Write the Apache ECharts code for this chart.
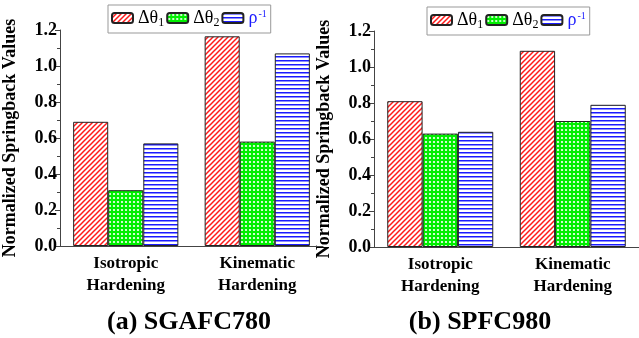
<!DOCTYPE html>
<html>
<head>
<meta charset="utf-8">
<script src="https://cdn.jsdelivr.net/npm/echarts@6/dist/echarts.min.js"></script>
<style>
html,body{margin:0;padding:0;background:#fff;}
#main{width:639px;height:338px;}
</style>
</head>
<body>
<div id="main"></div>
<script>
// data
var categories = ['Isotropic\nHardening', 'Kinematic\nHardening'];
var seriesNames = ['Δθ1', 'Δθ2', 'ρ-1'];
var sgafcTheta1 = [0.69, 1.165];
var sgafcTheta2 = [0.31, 0.58];
var sgafcRho = [0.57, 1.07];
var spfcTheta1 = [0.81, 1.09];
var spfcTheta2 = [0.63, 0.70];
var spfcRho = [0.64, 0.79];
var yTicks = [0, 0.2, 0.4, 0.6, 0.8, 1.0, 1.2];
var panelTitles = ['(a) SGAFC780', '(b) SPFC980'];

var FONT = 'Liberation Serif';

// fill patterns
function makeTile(w, h, draw) {
    var c = document.createElement('canvas');
    c.width = w; c.height = h;
    draw(c.getContext('2d'), w, h);
    return { image: c, repeat: 'repeat' };
}
var redHatch = makeTile(5, 5, function (ctx, w, h) {
    ctx.fillStyle = '#fff'; ctx.fillRect(0, 0, w, h);
    ctx.strokeStyle = '#ff1a1a'; ctx.lineWidth = 1.5;
    ctx.beginPath();
    ctx.moveTo(-1, h + 1); ctx.lineTo(w + 1, -1);
    ctx.moveTo(-1, 1); ctx.lineTo(1, -1);
    ctx.moveTo(w - 1, h + 1); ctx.lineTo(w + 1, h - 1);
    ctx.stroke();
});
var greenDots = makeTile(4, 4, function (ctx, w, h) {
    ctx.fillStyle = '#00ee00'; ctx.fillRect(0, 0, w, h);
    ctx.fillStyle = '#fff';
    ctx.beginPath(); ctx.arc(2, 2, 1.1, 0, Math.PI * 2); ctx.fill();
});
var blueLines = makeTile(4, 4, function (ctx, w, h) {
    ctx.fillStyle = '#fff'; ctx.fillRect(0, 0, w, h);
    ctx.fillStyle = '#1a1aff'; ctx.fillRect(0, 0, w, 1.5);
});
var fills = [redHatch, greenDots, blueLines];

var myChart = echarts.init(document.getElementById('main'));

var grids = [
    { left: 57, top: 30, width: 266, height: 216 },
    { left: 374, top: 31, width: 266, height: 216 }
];

var xAxes = [], yAxes = [];
grids.forEach(function (g, i) {
    xAxes.push({
        type: 'category', gridIndex: i, data: categories, position: 'bottom',
        axisLine: { lineStyle: { color: '#444', width: 1 } },
        axisTick: { alignWithLabel: true, length: 5, lineStyle: { color: '#444' } },
        axisLabel: { color: '#000', fontFamily: FONT, fontWeight: 'bold', fontSize: 17, lineHeight: 22, margin: 7 }
    });
    xAxes.push({
        type: 'category', gridIndex: i, data: categories, position: 'bottom',
        axisLine: { show: false },
        axisTick: { length: 3, lineStyle: { color: '#444' } },
        axisLabel: { show: false }
    });
    yAxes.push({
        type: 'value', gridIndex: i, min: 0, max: 1.2, interval: 0.2,
        name: 'Normalized Springback Values', nameLocation: 'middle', nameGap: 41,
        nameTextStyle: { color: '#000', fontFamily: FONT, fontWeight: 'bold', fontSize: 18 },
        axisLine: { show: true, lineStyle: { color: '#444', width: 1 } },
        axisTick: { show: true, length: 5, lineStyle: { color: '#444' } },
        minorTick: { show: true, splitNumber: 2, length: 3, lineStyle: { color: '#444' } },
        splitLine: { show: false },
        axisLabel: {
            color: '#000', fontFamily: FONT, fontWeight: 'bold', fontSize: 18, margin: 3,
            formatter: function (v) { return v.toFixed(1); }
        }
    });
});

var panelData = [
    [sgafcTheta1, sgafcTheta2, sgafcRho],
    [spfcTheta1, spfcTheta2, spfcRho]
];
var series = [];
panelData.forEach(function (sets, p) {
    sets.forEach(function (vals, k) {
        series.push({
            name: seriesNames[k], type: 'bar',
            xAxisIndex: p * 2, yAxisIndex: p,
            barGap: 0, barCategoryGap: '20%',
            itemStyle: { color: fills[k], borderColor: '#222', borderWidth: 1 },
            emphasis: { disabled: true },
            data: vals
        });
    });
});

var legendRich = {
    t: { fontFamily: FONT, fontSize: 18, color: '#000' },
    s: { fontFamily: FONT, fontSize: 12, color: '#000', padding: [10, 0, 0, 0] },
    r: { fontFamily: FONT, fontSize: 18, color: '#1a1aff' },
    sup: { fontFamily: FONT, fontSize: 10, color: '#1a1aff', padding: [0, 0, 8, 1] }
};
function legendFmt(name) {
    if (name === 'Δθ1') return '{t|Δθ}{s|1}';
    if (name === 'Δθ2') return '{t|Δθ}{s|2}';
    return '{r|ρ}{sup|-1}';
}
function makeLegend(left, top) {
    return {
        left: left, top: top, orient: 'horizontal',
        data: seriesNames,
        itemWidth: 21, itemHeight: 10, itemGap: 2,
        padding: [4, 4, 4, 3],
        borderColor: '#999', borderWidth: 1,
        selectedMode: false,
        formatter: legendFmt,
        textStyle: { fontFamily: FONT, fontSize: 18, rich: legendRich }
    };
}

var option = {
    animation: false,
    grid: grids,
    xAxis: xAxes,
    yAxis: yAxes,
    legend: [makeLegend(108, 5), makeLegend(427, 7)],
    title: [
        { text: panelTitles[0], left: 184, top: 304, textAlign: 'center',
          textStyle: { fontFamily: FONT, fontWeight: 'bold', fontSize: 26, color: '#000' } },
        { text: panelTitles[1], left: 475, top: 304, textAlign: 'center',
          textStyle: { fontFamily: FONT, fontWeight: 'bold', fontSize: 26, color: '#000' } }
    ],
    series: series
};

myChart.setOption(option);
</script>
</body>
</html>
